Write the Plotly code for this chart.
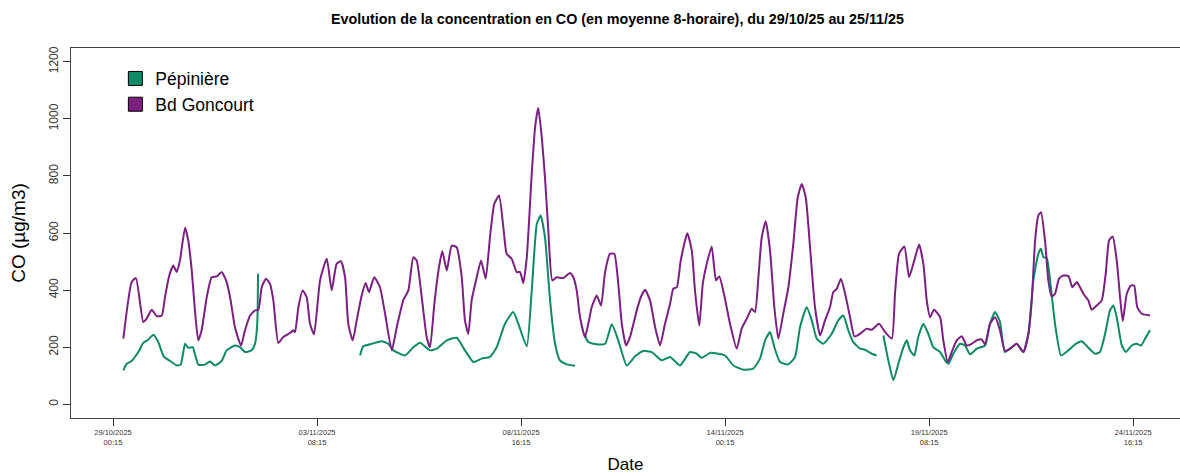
import datetime as dt
import plotly.graph_objects as go

# ---- data: hours since 29/10/2025 00:15, CO 8-h moving average (µg/m3)
START = dt.datetime(2025, 10, 29, 0, 15)

PURPLE_H = [6.5, 11.7, 14.4, 19.0, 21.1, 24.3, 27.4, 30.6, 32.6, 35.3, 37.8, 40.0, 42.0, 45.2, 47.2, 49.4, 51.4, 53.5,
            55.6, 58.8, 61.9, 65.1, 68.2, 71.3, 73.8, 76.5, 80.3, 82.8, 86.0, 89.1, 91.2, 93.3, 96.0, 98.5, 100.6,
            103.7, 106.8, 111.0, 113.1, 114.2, 116.3, 119.0, 121.5, 123.6, 126.1, 129.9, 134.1, 137.2, 140.3, 143.0,
            145.6, 147.6, 150.4, 152.9, 156.0, 158.5, 160.6, 163.9, 167.5, 170.7, 174.9, 178.0, 182.1, 185.3, 188.4,
            190.5, 193.7, 196.8, 198.9, 201.6, 204.5, 206.6, 209.4, 212.5, 215.6, 218.8, 220.8, 222.9, 225.0, 228.2,
            230.9, 233.8, 236.5, 239.2, 242.2, 244.9, 247.0, 250.1, 253.3, 255.4, 257.4, 259.6, 262.7, 264.8, 266.8,
            269.0, 271.0, 273.1, 275.6, 278.4, 282.5, 286.7, 288.8, 290.9, 293.0, 296.1, 298.2, 300.3, 303.5, 306.2,
            308.7, 311.8, 314.5, 317.0, 319.2, 321.9, 324.4, 328.6, 331.1, 333.8, 336.9, 340.1, 343.2, 346.3, 349.5,
            351.5, 353.7, 356.2, 360.3, 363.1, 365.1, 367.8, 370.0, 372.5, 375.6, 378.3, 380.4, 383.3, 387.1, 391.3,
            394.4, 397.6, 400.7, 402.8, 404.9, 407.0, 409.5, 412.2, 414.9, 417.4, 420.5, 423.7, 426.8, 429.6, 432.1,
            434.6, 437.3, 440.4, 443.6, 446.7, 449.8, 451.9, 454.1, 456.7, 459.3, 462.4, 465.1, 468.7, 472.9, 476.0,
            480.6, 484.4, 488.6, 490.6, 493.1, 496.5, 499.4, 502.7, 505.7, 508.4, 510.5, 512.6, 515.1, 518.9, 520.9,
            523.7, 526.2, 529.3, 532.5, 535.6, 538.7, 541.9, 545.0, 547.1, 550.2, 553.4, 556.5, 559.6, 562.8, 567.0,
            571.1, 574.3, 576.4, 578.5, 580.5, 582.2, 584.7, 586.8, 588.9, 591.0, 593.5, 596.2, 599.4, 601.9, 604.6,
            606.7, 608.8, 611.9, 614.0, 617.2, 620.3, 622.8, 624.9, 627.2, 629.7, 631.8, 633.5, 636.0, 638.5, 640.6,
            642.6, 645.4, 650.6]
PURPLE_V = [230, 428, 442, 288, 300, 331, 309, 311, 375, 451, 486, 463, 504, 618, 574, 469, 329, 224,
            259, 375, 445, 448, 463, 428, 364, 270, 206, 259, 311, 329, 331, 410, 440, 422, 364,
            215, 236, 250, 259, 253, 340, 399, 375, 282, 245, 434, 510, 399, 492, 501,
            445, 282, 224, 294, 381, 425, 393, 445, 410, 317, 189, 270, 364, 399, 515,
            504, 375, 236, 200, 352, 480, 536, 469, 556, 550, 445, 294, 247, 364, 445,
            504, 440, 585, 702, 731, 620, 527, 510, 463, 463, 425, 515, 807, 970, 1038,
            935, 795, 609, 434, 445, 442, 460, 445, 399, 305, 236, 282, 340, 381, 346,
            463, 527, 527, 422, 282, 206, 236, 329, 375, 401, 364, 270, 206, 282, 352,
            405, 410, 504, 599, 539, 399, 276, 422, 492, 553, 434, 448, 387, 282, 195,
            265, 300, 335, 323, 445, 585, 641, 539, 340, 230, 317, 410, 562, 725, 772,
            725, 550, 340, 241, 294, 340, 393, 405, 440, 387, 305, 238, 247, 265, 261,
            282, 253, 230, 387, 527, 553, 445, 504, 560, 492, 364, 305, 331, 305, 224,
            148, 183, 224, 238, 206, 212, 224, 227, 210, 282, 305, 259, 187, 195, 212,
            183, 247, 364, 574, 661, 673, 574, 434, 378, 387, 440, 451, 449, 410, 428,
            410, 387, 364, 331, 346, 364, 457, 574, 588, 504, 375, 291, 387, 416, 416,
            340, 317, 311]

GREEN_H = [6.5, 8.6, 11.7, 15.9, 19.0, 22.1, 25.3, 28.4, 32.0, 35.8, 40.0, 42.5, 45.2, 47.2, 50.0, 53.5, 57.7,
           60.9, 64.0, 68.2, 71.3, 76.5, 79.7, 82.8, 87.0, 89.1, 90.5, 91.0,
           None,
           155.0, 157.0, 162.3, 168.6, 172.7, 175.9, 183.2, 188.4, 192.6, 198.9, 203.1, 209.4, 215.6, 220.8, 226.1,
           231.3, 236.5, 240.7, 245.9, 251.1, 254.3, 259.6, 262.7, 265.9, 268.3, 271.0, 274.2, 277.3, 280.4, 284.7,
           289.9,
           None,
           296.1, 298.2, 303.5, 308.7, 312.9, 317.0, 322.3, 327.5, 332.7, 338.0, 344.2, 349.5, 355.7, 362.0, 366.2,
           369.3, 374.6, 379.8, 384.0, 389.2, 395.5, 401.7, 405.9, 409.1, 412.2, 414.9, 418.5, 423.7, 427.9, 431.0,
           435.2, 438.4, 441.5, 445.6, 450.9, 455.0, 458.2, 461.3, 464.4, 468.7, 471.8, 476.0, 479.1,
           None,
           483.3, 486.4, 489.6, 492.7, 495.9, 498.0, 500.0, 502.7, 505.2, 508.4, 511.5, 514.6, 518.9, 522.0, 524.1,
           527.2, 531.4, 534.5, 537.7, 541.9, 547.1, 550.2, 553.4, 556.5, 559.6, 567.0, 571.1, 574.3, 577.4, 580.5,
           582.2, 583.7, 585.8, 587.9, 591.0, 594.8, 599.4, 603.6, 607.8, 611.9, 616.1, 619.2, 622.4, 625.5, 627.6,
           629.7, 632.9, 635.4, 639.1, 642.3, 645.0, 647.5, 650.6]
GREEN_V = [119, 142, 152, 183, 215, 226, 244, 218, 166, 152, 136, 139, 212, 198, 200, 139, 139,
           150, 136, 152, 189, 206, 200, 183, 189, 212, 282, 457,
           None,
           171, 203, 212, 221, 212, 189, 171, 200, 216, 189, 195, 224, 233, 189, 148,
           160, 166, 200, 282, 323, 282, 203, 399, 632, 661, 585, 364, 212, 154, 140,
           135,
           None,
           241, 218, 210, 212, 280, 224, 136, 168, 187, 183, 154, 166, 136, 183, 177,
           163, 180, 177, 171, 136, 121, 125, 160, 224, 253, 200, 148, 140, 166, 270,
           340, 294, 230, 212, 247, 294, 311, 259, 218, 195, 191, 177, 171,
           None,
           241, 154, 84, 142, 200, 224, 189, 171, 236, 282, 247, 200, 183, 154, 142,
           177, 212, 206, 175, 195, 206, 282, 323, 288, 183, 212, 183, 247, 434, 527,
           545, 515, 513, 434, 282, 171, 189, 210, 221, 198, 177, 183, 247, 329, 346,
           305, 206, 183, 206, 212, 206, 230, 259]

SERIES_NAMES = ["Pépinière", "Bd Goncourt"]
COLORS = ["#0E8A66", "#7C1F82"]

TICK_HOURS = [0, 128, 256, 384, 512, 640]
TICK_TEXT = ["29/10/2025<br>00:15", "03/11/2025<br>08:15", "08/11/2025<br>16:15",
             "14/11/2025<br>00:15", "19/11/2025<br>08:15", "24/11/2025<br>16:15"]
Y_TICKS = [0, 200, 400, 600, 800, 1000, 1200]
X_RANGE_H = [-26.35, 669.4]
Y_RANGE = [-48, 1248]

TITLE = "Evolution de la concentration en CO (en moyenne 8-horaire), du 29/10/25 au 25/11/25"


def to_time(hours):
    return [START + dt.timedelta(hours=h) if h is not None else None for h in hours]


fig = go.Figure()
fig.add_trace(go.Scatter(x=to_time(GREEN_H), y=GREEN_V, mode="lines", name=SERIES_NAMES[0],
                         line=dict(color=COLORS[0], width=2, shape="spline", smoothing=0.5),
                         showlegend=False, connectgaps=False))
fig.add_trace(go.Scatter(x=to_time(PURPLE_H), y=PURPLE_V, mode="lines", name=SERIES_NAMES[1],
                         line=dict(color=COLORS[1], width=2, shape="spline", smoothing=0.5),
                         showlegend=False))
# legend entries (filled squares)
for name, col in zip(SERIES_NAMES, COLORS):
    fig.add_trace(go.Scatter(x=[None], y=[None], mode="markers", name=name,
                             marker=dict(symbol="square", size=14, color=col,
                                         line=dict(color="black", width=1))))

font_family = "Liberation Sans, Arial, sans-serif"
fig.update_layout(
    width=1180, height=474,
    margin=dict(l=71, r=0, t=48, b=56),
    paper_bgcolor="white", plot_bgcolor="white",
    font=dict(family=font_family, color="black"),
    title=dict(text="<b>" + TITLE + "</b>", x=617.5 / 1180, xanchor="center", y=1 - 19 / 474, yanchor="middle",
               font=dict(size=14.3, family=font_family, color="black")),
    legend=dict(x=0.04, xanchor="left", y=0.966, yanchor="top", bgcolor="rgba(0,0,0,0)",
                font=dict(size=17.5, family=font_family), tracegroupgap=4),
    showlegend=True,
)
fig.update_xaxes(
    type="date", range=to_time(X_RANGE_H), tickvals=to_time(TICK_HOURS), ticktext=TICK_TEXT,
    ticks="outside", ticklen=7, tickcolor="#333", tickfont=dict(size=7.5, color="#333", family=font_family),
    showline=True, linecolor="#444", linewidth=1, mirror=True, showgrid=False, zeroline=False,
    title=dict(text="Date", font=dict(size=17, family=font_family), standoff=15),
)
fig.update_yaxes(
    range=Y_RANGE, tickvals=Y_TICKS, tickangle=-90,
    ticks="outside", ticklen=7, tickcolor="#333", tickfont=dict(size=12, color="#333", family=font_family),
    showline=True, linecolor="#444", linewidth=1, mirror=False, showgrid=False, zeroline=False,
    title=dict(text="CO (µg/m3)", font=dict(size=19, family=font_family), standoff=16),
)

fig.write_html("out.html", config={"displayModeBar": False},
               post_script="document.body.style.margin='0';document.body.style.overflow='hidden';")
